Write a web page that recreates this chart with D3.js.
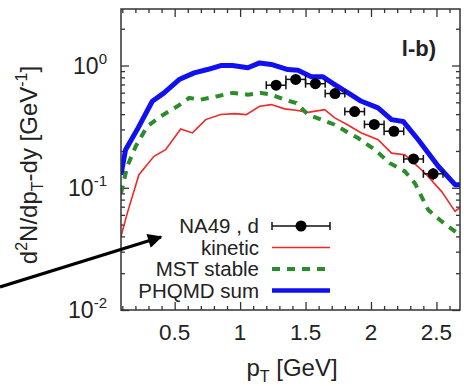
<!DOCTYPE html>
<html>
<head>
<meta charset="utf-8">
<script src="https://cdn.jsdelivr.net/npm/d3@7"></script>
<style>
  body { margin: 0; background: #fff; }
  svg { display: block; font-family: "Liberation Sans", Arial, sans-serif; }
</style>
</head>
<body>
<div id="chart"></div>
<script>
// NA49 deuterons
const na49Pt = [1.275, 1.425, 1.575, 1.725, 1.875, 2.025, 2.175, 2.325, 2.475];
const na49Val = [0.69, 0.77, 0.71, 0.59, 0.42, 0.33, 0.29, 0.172, 0.130];
const na49YErr = [0.03, 0.03, 0.03, 0.025, 0.02, 0.016, 0.015, 0.012, 0.015];
const na49XErr = 0.075;

// PHQMD sum
const sumPt = [0.09, 0.125, 0.214, 0.329, 0.419, 0.534, 0.649, 0.75, 0.852, 0.942, 1.059, 1.149, 1.238, 1.365, 1.442, 1.544, 1.633, 1.723, 1.825, 1.927, 2.054, 2.157, 2.246, 2.361, 2.514, 2.642, 2.68];
const sumVal = [0.128, 0.205, 0.299, 0.51, 0.597, 0.768, 0.871, 0.927, 1.0, 1.0, 0.958, 1.05, 1.02, 0.927, 0.915, 0.808, 0.808, 0.699, 0.597, 0.51, 0.45, 0.361, 0.349, 0.247, 0.15, 0.106, 0.106];

// MST stable
const mstPt = [0.09, 0.138, 0.202, 0.291, 0.393, 0.521, 0.61, 0.699, 0.827, 0.942, 1.059, 1.161, 1.238, 1.34, 1.429, 1.518, 1.621, 1.723, 1.82, 1.901, 2.029, 2.144, 2.259, 2.335, 2.437, 2.54, 2.68];
const mstVal = [0.09, 0.15, 0.218, 0.318, 0.384, 0.464, 0.543, 0.526, 0.561, 0.597, 0.578, 0.597, 0.578, 0.526, 0.494, 0.397, 0.361, 0.328, 0.285, 0.255, 0.205, 0.159, 0.136, 0.109, 0.066, 0.053, 0.041];

// kinetic
const kinPt = [0.09, 0.138, 0.227, 0.342, 0.431, 0.546, 0.636, 0.737, 0.852, 0.957, 1.047, 1.149, 1.238, 1.34, 1.429, 1.518, 1.646, 1.723, 1.82, 1.927, 2.054, 2.157, 2.259, 2.412, 2.54, 2.642, 2.68];
const kinVal = [0.04, 0.062, 0.128, 0.181, 0.205, 0.303, 0.281, 0.361, 0.397, 0.404, 0.397, 0.464, 0.479, 0.442, 0.43, 0.414, 0.436, 0.373, 0.328, 0.281, 0.247, 0.192, 0.186, 0.132, 0.093, 0.064, 0.069];

// ticks
const xMajor = [0.5, 1, 1.5, 2, 2.5];
const xMinor = [0.1, 0.2, 0.3, 0.4, 0.6, 0.7, 0.8, 0.9, 1.1, 1.2, 1.3, 1.4, 1.6, 1.7, 1.8, 1.9, 2.1, 2.2, 2.3, 2.4, 2.6];
const yMajor = [0.01, 0.1, 1];
const yMinor = [0.02, 0.03, 0.04, 0.05, 0.06, 0.07, 0.08, 0.09, 0.2, 0.3, 0.4, 0.5, 0.6, 0.7, 0.8, 0.9, 2];
const yExp = {0.01: "-2", 0.1: "-1", 1: "0"};

const legendLabels = ["NA49 , d", "kinetic", "MST stable", "PHQMD sum"];

const W = 464, H = 386;
const pLeft = 121, pRight = 460, pTop = 9, pBottom = 310;
const ink = "#222";

const svg = d3.select("#chart").append("svg")
    .attr("width", W)
    .attr("height", H);

const x = d3.scaleLinear().domain([0.09, 2.68]).range([pLeft, pRight]);
const y = d3.scaleLog().domain([0.01, 2.9]).range([pBottom, pTop]);

const defs = svg.append("defs");
defs.append("clipPath").attr("id", "clip")
    .append("rect")
    .attr("x", pLeft).attr("y", pTop)
    .attr("width", pRight - pLeft).attr("height", pBottom - pTop);

// axes, ticks pointing inwards (gnuplot style)
function axisPair(axisFn, scale, major, minor, pos, isX) {
    const tr = isX ? `translate(0,${pos})` : `translate(${pos},0)`;
    const gMin = svg.append("g")
        .attr("transform", tr)
        .call(axisFn(scale).tickValues(minor).tickSize(-4).tickFormat(""));
    const gMaj = svg.append("g")
        .attr("transform", tr)
        .call(axisFn(scale).tickValues(major).tickSize(-8).tickFormat(""));
    [gMin, gMaj].forEach(g => {
        g.select(".domain").remove();
        g.selectAll("line").attr("stroke", "#333").attr("stroke-width", 1.3);
    });
}

axisPair(d3.axisBottom, x, xMajor, xMinor, pBottom, true);
axisPair(d3.axisTop, x, xMajor, xMinor, pTop, true);
axisPair(d3.axisLeft, y, yMajor, yMinor, pLeft, false);
axisPair(d3.axisRight, y, yMajor, yMinor, pRight, false);

// x tick labels
svg.append("g").selectAll("text")
    .data(xMajor)
    .enter()
    .append("text")
    .attr("x", d => x(d))
    .attr("y", 340)
    .attr("text-anchor", "middle")
    .attr("font-size", 22.5)
    .attr("fill", ink)
    .text(d => d);

// y tick labels with exponents
const yt = svg.append("g").selectAll("text")
    .data(yMajor)
    .enter()
    .append("text")
    .attr("x", 107)
    .attr("y", d => y(d) + 8)
    .attr("text-anchor", "end")
    .attr("font-size", 23)
    .attr("fill", ink);
yt.append("tspan").text("10");
yt.append("tspan")
    .attr("dy", -10)
    .attr("font-size", 15)
    .text(d => yExp[d]);

// axis titles
const xt = svg.append("text")
    .attr("x", 292)
    .attr("y", 376)
    .attr("text-anchor", "middle")
    .attr("font-size", 24)
    .attr("fill", ink);
xt.append("tspan").text("p");
xt.append("tspan").attr("dy", 6).attr("font-size", 16).text("T");
xt.append("tspan").attr("dy", -6).text(" [GeV]");

const ytl = svg.append("text")
    .attr("transform", "translate(37,165) rotate(-90)")
    .attr("text-anchor", "middle")
    .attr("font-size", 24)
    .attr("fill", ink);
ytl.append("tspan").text("d");
ytl.append("tspan").attr("dy", -10).attr("font-size", 16).text("2");
ytl.append("tspan").attr("dy", 10).text("N/dp");
ytl.append("tspan").attr("dy", 6).attr("font-size", 16).text("T");
ytl.append("tspan").attr("dy", -6).text("-dy [GeV");
ytl.append("tspan").attr("dy", -10).attr("font-size", 16).text("-1");
ytl.append("tspan").attr("dy", 10).text("]");

// panel tag
svg.append("text")
    .attr("x", 436)
    .attr("y", 56)
    .attr("text-anchor", "end")
    .attr("font-size", 22)
    .attr("font-weight", "bold")
    .attr("fill", ink)
    .text("l-b)");

// curves
const plot = svg.append("g").attr("clip-path", "url(#clip)");
const line = d3.line().x(d => x(d[0])).y(d => y(d[1]));

plot.append("path")
    .datum(d3.zip(kinPt, kinVal))
    .attr("d", line)
    .attr("fill", "none")
    .attr("stroke", "#f02828")
    .attr("stroke-width", 1.6);

plot.append("path")
    .datum(d3.zip(mstPt, mstVal))
    .attr("d", line)
    .attr("fill", "none")
    .attr("stroke", "#2a8c2a")
    .attr("stroke-width", 4)
    .attr("stroke-dasharray", "8,7");

plot.append("path")
    .datum(d3.zip(sumPt, sumVal))
    .attr("d", line)
    .attr("fill", "none")
    .attr("stroke", "#1010f0")
    .attr("stroke-width", 5)
    .attr("stroke-linejoin", "round");

// NA49 points
const na49 = d3.zip(na49Pt, na49Val, na49YErr);
const pts = plot.append("g").attr("stroke", "#111").attr("stroke-width", 1.5);
pts.selectAll(".xe").data(na49).enter().append("line")
    .attr("x1", d => x(d[0] - na49XErr)).attr("x2", d => x(d[0] + na49XErr))
    .attr("y1", d => y(d[1])).attr("y2", d => y(d[1]));
pts.selectAll(".c1").data(na49).enter().append("line")
    .attr("x1", d => x(d[0] - na49XErr)).attr("x2", d => x(d[0] - na49XErr))
    .attr("y1", d => y(d[1]) - 4).attr("y2", d => y(d[1]) + 4);
pts.selectAll(".c2").data(na49).enter().append("line")
    .attr("x1", d => x(d[0] + na49XErr)).attr("x2", d => x(d[0] + na49XErr))
    .attr("y1", d => y(d[1]) - 4).attr("y2", d => y(d[1]) + 4);
pts.selectAll(".ye").data(na49).enter().append("line")
    .attr("x1", d => x(d[0])).attr("x2", d => x(d[0]))
    .attr("y1", d => y(d[1] - d[2])).attr("y2", d => y(d[1] + d[2]));
plot.selectAll(".dot").data(na49).enter().append("circle")
    .attr("cx", d => x(d[0]))
    .attr("cy", d => y(d[1]))
    .attr("r", 5.5)
    .attr("fill", "#000");

// frame
svg.append("rect")
    .attr("x", pLeft).attr("y", pTop)
    .attr("width", pRight - pLeft).attr("height", pBottom - pTop)
    .attr("fill", "none")
    .attr("stroke", "#333")
    .attr("stroke-width", 1.5);

// legend
const legY = [226, 247.5, 269, 290.5];
const lg = svg.append("g");
lg.selectAll("text").data(legendLabels).enter().append("text")
    .attr("x", 259)
    .attr("y", (d, i) => legY[i] + 7)
    .attr("text-anchor", "end")
    .attr("font-size", 20.5)
    .attr("fill", ink)
    .text(d => d);

const sx1 = 272, sx2 = 330;
lg.append("line").attr("x1", sx1).attr("x2", sx2).attr("y1", legY[0]).attr("y2", legY[0])
    .attr("stroke", "#111").attr("stroke-width", 1.5);
[sx1, sx2].forEach(sx => lg.append("line")
    .attr("x1", sx).attr("x2", sx).attr("y1", legY[0] - 4).attr("y2", legY[0] + 4)
    .attr("stroke", "#111").attr("stroke-width", 1.5));
lg.append("circle").attr("cx", (sx1 + sx2) / 2).attr("cy", legY[0]).attr("r", 5.5).attr("fill", "#000");
lg.append("line").attr("x1", sx1).attr("x2", sx2).attr("y1", legY[1]).attr("y2", legY[1])
    .attr("stroke", "#f02828").attr("stroke-width", 1.6);
lg.append("line").attr("x1", sx1).attr("x2", sx2).attr("y1", legY[2]).attr("y2", legY[2])
    .attr("stroke", "#2a8c2a").attr("stroke-width", 4).attr("stroke-dasharray", "8,7");
lg.append("line").attr("x1", sx1).attr("x2", sx2).attr("y1", legY[3]).attr("y2", legY[3])
    .attr("stroke", "#1010f0").attr("stroke-width", 4.5);

// arrow
defs.append("marker")
    .attr("id", "head")
    .attr("viewBox", "0 0 10 10")
    .attr("refX", 9).attr("refY", 5)
    .attr("markerWidth", 5.5).attr("markerHeight", 4.5)
    .attr("orient", "auto")
    .append("path")
    .attr("d", "M0,0 L10,5 L0,10 Z")
    .attr("fill", "#000");
svg.append("line")
    .attr("x1", 0).attr("y1", 287)
    .attr("x2", 161).attr("y2", 237)
    .attr("stroke", "#000")
    .attr("stroke-width", 3.2)
    .attr("marker-end", "url(#head)");
</script>
</body>
</html>
